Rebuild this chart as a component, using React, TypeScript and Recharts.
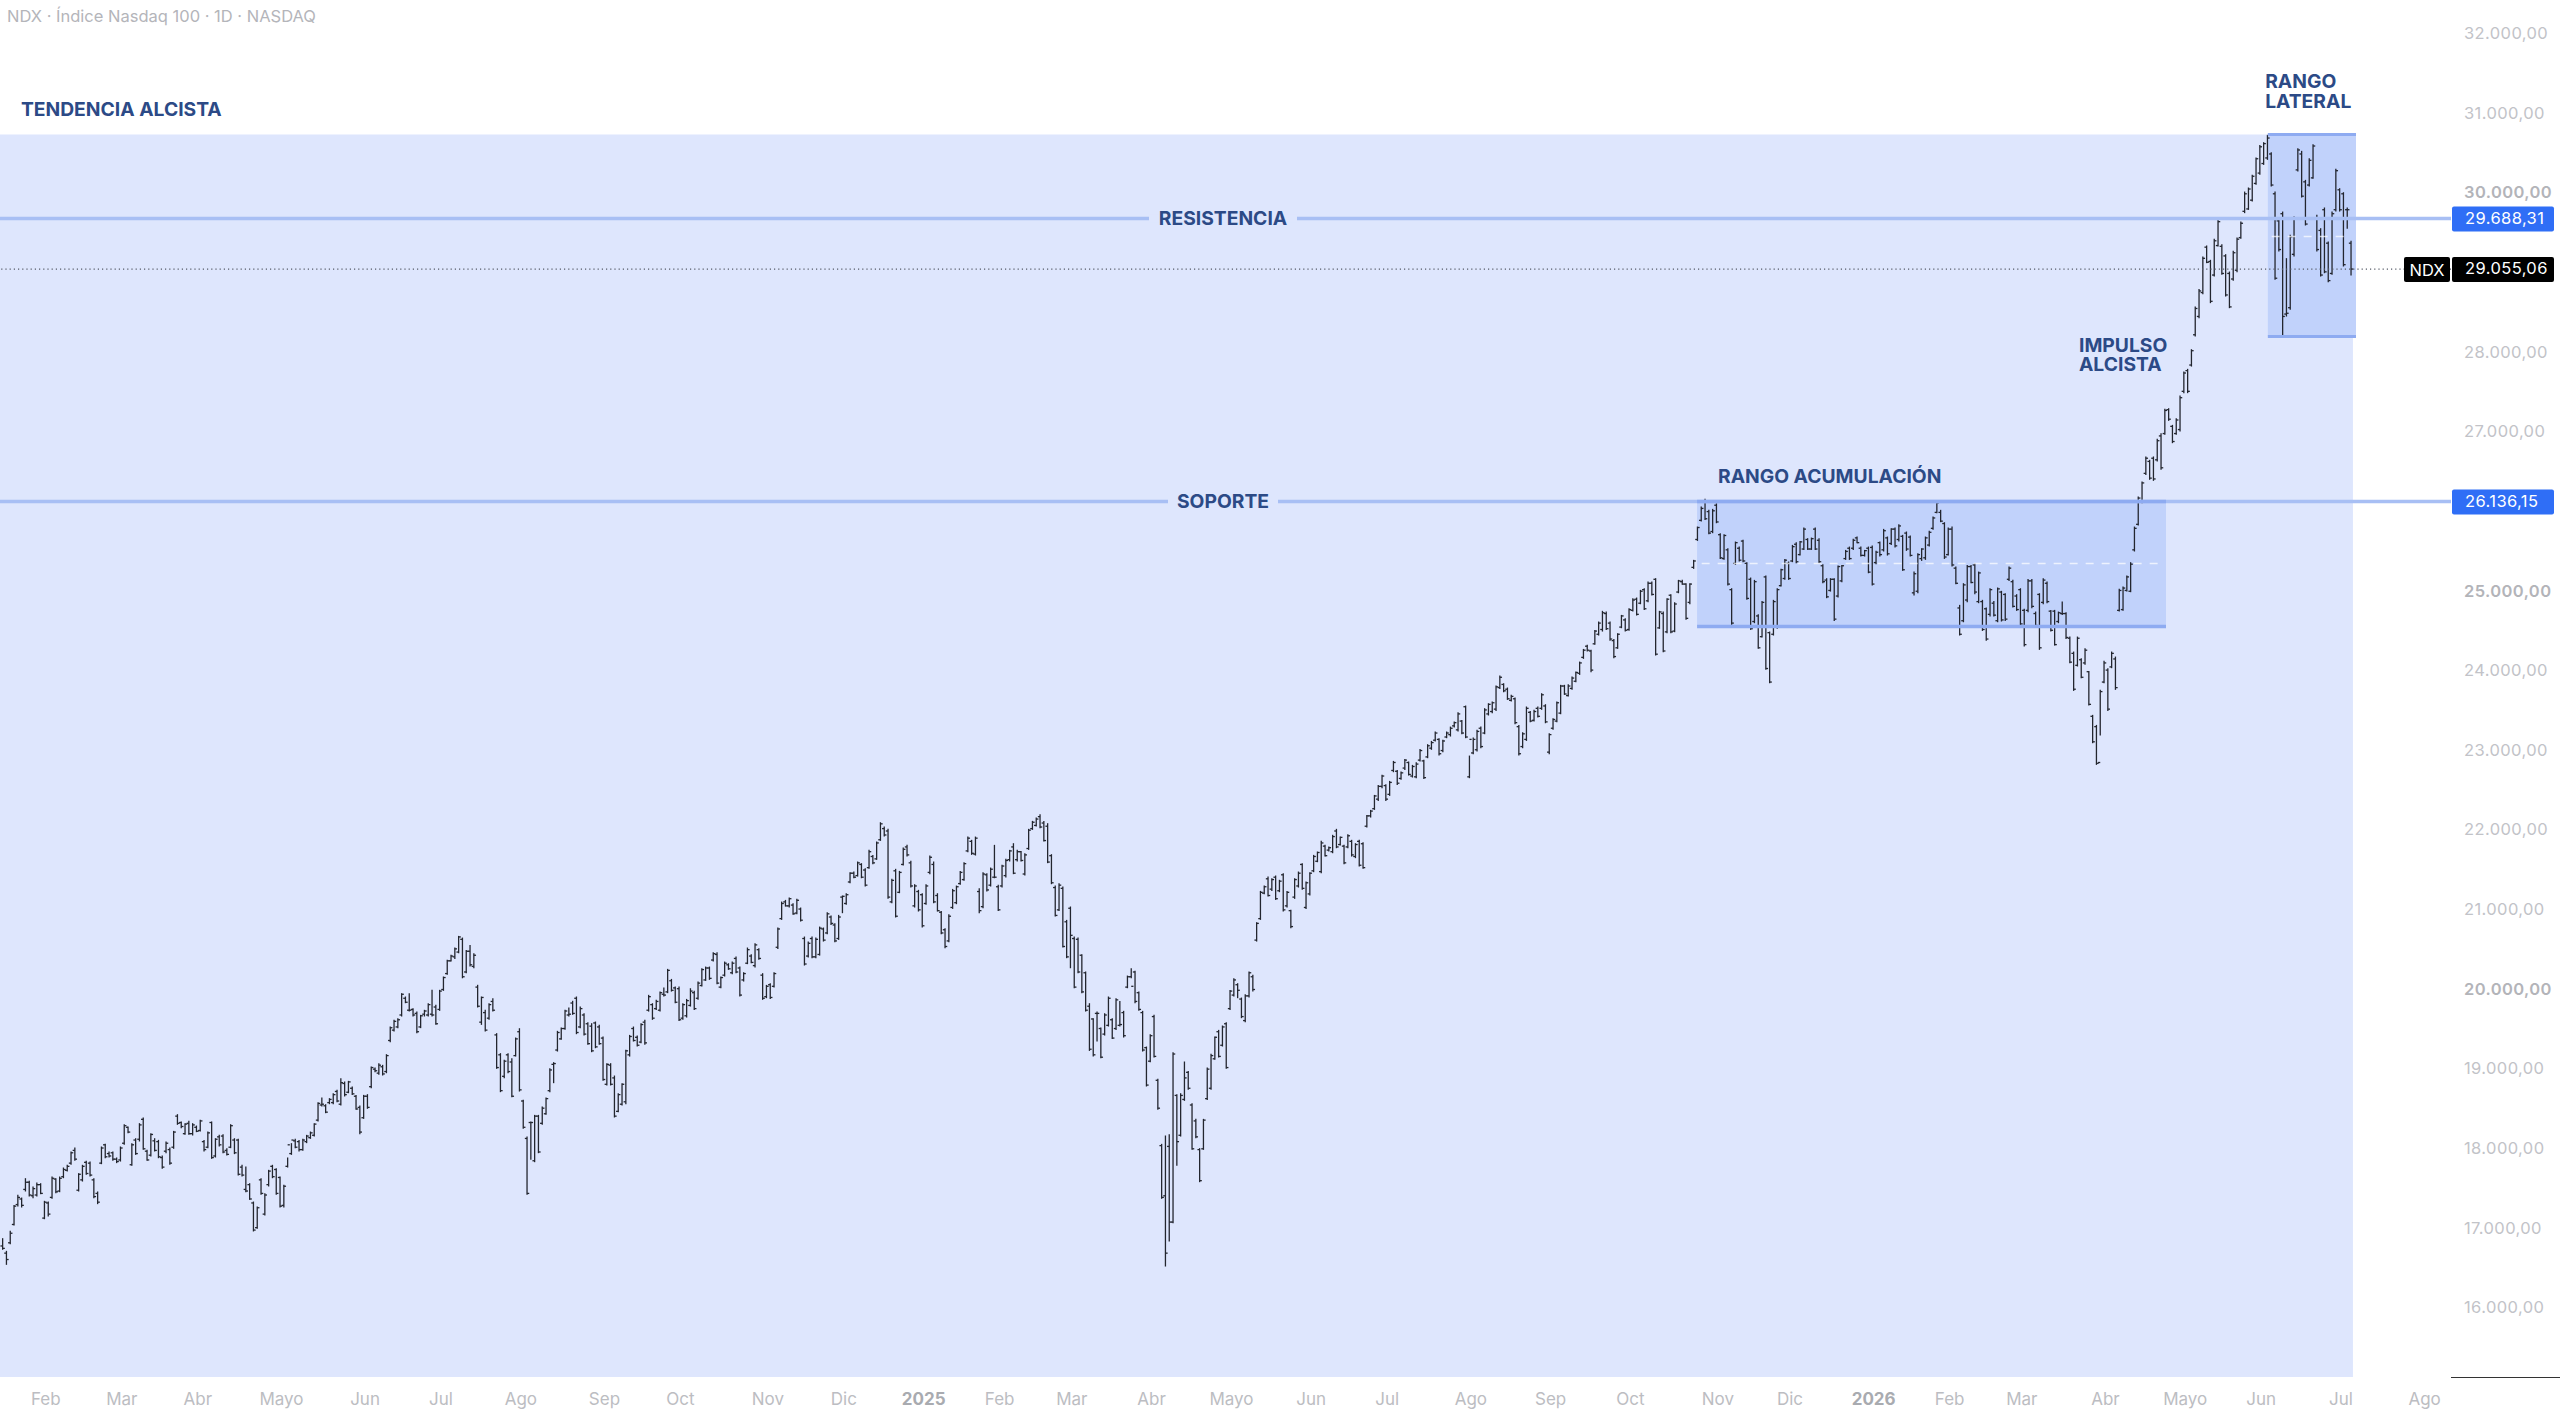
import {
  ComposedChart,
  Bar,
  XAxis,
  YAxis,
  ReferenceArea,
  ReferenceLine,
  ReferenceDot,
} from "recharts";

// NDX daily bars, split by calendar year
const highs2024 = [
  16888,16729,16980,17306,17432,17398,17641,17608,17537,17587,
  17578,17357,17348,17662,17641,17662,17775,17809,17976,18026,
  17704,17809,17859,17850,17641,17474,18039,18072,17976,17976,
  17901,18039,18319,18290,18081,18143,18332,18403,17997,18206,
  18143,18122,17926,18102,18026,18235,18445,18353,18332,18361,
  18332,18302,18374,18122,18227,18353,18143,18185,18194,18018,
  18319,18143,18135,17809,17788,17578,17348,17285,17641,17453,
  17746,17809,17767,17662,17558,17901,18081,18135,18122,18135,
  18185,18227,18332,18595,18654,18570,18646,18708,18750,18897,
  18855,18863,18792,18687,18554,18687,18696,19043,19031,19085,
  19064,19198,19545,19629,19650,19964,19922,19964,19776,19734,
  19692,19755,19838,20006,19817,20006,20173,20382,20445,20536,
  20683,20662,20507,20570,20466,20069,19922,19755,19838,19901,
  19462,19211,19127,19211,19148,19407,19524,18625,18164,18353,
  18436,18436,18541,18654,19022,19098,19491,19533,19755,19784,
  19868,19922,19796,19713,19600,19587,19608,19566,19420,19085,
  19085,18930,18708,18834,19253,19440,19545,19432,19587,19629,
  19943,19838,19880,19984,20035,20269,20143,20047,20047,19838,
  19892,20026,19993,20110,20277,20298,20298,20478,20478,20173,
  20361,20340,20361,20424,20298,20227,20537,20453,20591,20528,
  20215,20068,20089,20227,20788,21114,21135,21165,21093,21148,
  21039,20675,20612,20675,20662,20800,20788,20980,20939,20842,
  20947,21190,21219,21483,21491,21617,21596,21533,21763,21700,
  21868,22110,22056,22027,21399,21525,21499,21792,21826,21625,
  21332,21261,
];
const lows2024 = [
  16742,16553,16813,17047,17285,17273,17474,17411,17390,17411,
  17440,17126,17160,17382,17453,17465,17641,17725,17809,17859,
  17474,17599,17683,17662,17390,17315,17817,17892,17901,17859,
  17830,17850,18060,18206,17796,17934,18102,17997,17859,17913,
  17976,17892,17758,17955,17809,18010,18311,18269,18185,18185,
  18177,18219,18227,17976,18018,17884,17901,18039,17955,17926,
  18018,17943,17675,17662,17465,17369,16972,17005,17432,17172,
  17537,17641,17432,17273,17273,17775,17934,18018,17976,17984,
  18081,18135,18164,18353,18541,18457,18570,18570,18595,18554,
  18667,18708,18687,18499,18194,18386,18512,18771,18972,18939,
  18930,18959,19349,19483,19525,19671,19838,19734,19671,19462,
  19525,19671,19671,19671,19566,19742,19993,20194,20361,20394,
  20465,20151,20214,20298,20278,19784,19566,19483,19629,19734,
  19014,18721,18897,18959,18658,19169,18729,18261,17432,17871,
  17842,17955,18311,18436,18721,18834,19231,19378,19504,19671,
  19692,19449,19525,19432,19315,19223,19273,19315,18863,18805,
  18805,18403,18470,18554,18570,19168,19357,19294,19336,19315,
  19733,19629,19754,19733,19922,19964,19984,19838,19616,19629,
  19658,19796,19754,19880,20047,20118,20131,20361,20077,20026,
  20173,20257,20202,20215,19922,20110,20328,20340,20286,20382,
  19880,19901,19892,20035,20520,20884,21052,21039,20947,20955,
  20863,20311,20411,20403,20403,20436,20612,20704,20821,20604,
  20633,20968,21073,21345,21407,21428,21407,21303,21525,21583,
  21638,21876,21930,21148,21093,20914,21219,21566,21679,21290,
  21039,20989,
];
const opens2024 = [
  16790,16700,16830,17060,17310,17380,17500,17590,17420,17430,
  17560,17140,17330,17400,17630,17480,17660,17740,17830,17990,
  17490,17620,17840,17830,17620,17450,17830,18060,17950,17960,
  17880,17870,18080,18280,17810,18120,18130,18380,17980,17930,
  18110,18100,17900,17980,18000,18030,18420,18340,18200,18330,
  18200,18280,18240,18100,18030,18340,17920,18160,18170,17990,
  18030,18120,18120,17780,17500,17560,17330,17020,17620,17190,
  17560,17790,17750,17650,17300,17790,17950,18110,18100,18000,
  18100,18150,18180,18370,18560,18550,18590,18590,18730,18570,
  18830,18720,18770,18670,18530,18400,18670,18790,19010,18960,
  19040,18980,19370,19500,19540,19690,19900,19750,19760,19710,
  19540,19700,19690,19700,19790,19760,20010,20210,20370,20420,
  20480,20640,20230,20490,20300,20040,19600,19720,19650,19860,
  19440,19190,18920,19190,19100,19180,19480,18610,18140,18340,
  17860,18420,18330,18450,18740,19070,19250,19390,19520,19690,
  19840,19900,19540,19690,19580,19550,19590,19540,19400,18820,
  19060,18900,18480,18570,18600,19190,19520,19410,19350,19600,
  19750,19820,19770,19750,19950,19980,20120,20030,20020,19650,
  19680,19810,19970,19900,20060,20130,20280,20380,20450,20040,
  20190,20320,20220,20400,20280,20130,20340,20430,20310,20510,
  20190,19920,20070,20050,20540,20900,21110,21060,21070,20970,
  21020,20650,20430,20650,20420,20450,20770,20720,20920,20820,
  20650,21170,21090,21360,21470,21440,21580,21510,21540,21680,
  21650,21890,22030,22000,21110,21500,21230,21580,21800,21600,
  21060,21240,
];
const closes2024 = [
  16760,16620,16950,17290,17400,17300,17590,17430,17510,17560,
  17450,17340,17190,17640,17470,17640,17750,17790,17960,17880,
  17690,17790,17700,17680,17410,17340,18020,17910,17920,17880,
  17850,18020,18300,18220,18060,17950,18310,18010,17870,18190,
  17990,17910,17780,18080,17830,18220,18330,18290,18320,18200,
  18310,18230,18360,18000,18210,17900,18130,18060,17970,17940,
  18300,17960,17690,17680,17480,17380,16990,17270,17450,17430,
  17730,17660,17450,17290,17540,18060,18120,18030,18000,18120,
  18170,18210,18320,18580,18570,18470,18630,18690,18610,18840,
  18690,18850,18700,18510,18220,18670,18530,19030,18990,19060,
  18950,19180,19530,19610,19630,19950,19850,19750,19690,19480,
  19680,19740,19820,19690,19580,19990,20160,20370,20430,20520,
  20670,20170,20490,20320,20440,19800,19910,19500,19820,19750,
  19030,18740,19110,18980,18670,19390,18750,18280,17450,18340,
  18420,17970,18520,18640,19000,19080,19470,19520,19740,19700,
  19710,19470,19770,19450,19330,19240,19290,19330,18880,19070,
  18820,18420,18690,18820,19240,19420,19370,19310,19570,19340,
  19920,19650,19860,19970,19940,20250,20000,19850,19630,19820,
  19870,19990,19770,20090,20260,20280,20150,20460,20090,20160,
  20340,20270,20340,20230,19940,20210,20510,20350,20570,20400,
  19900,20050,19910,20210,20770,21090,21060,21150,20960,21130,
  20880,20330,20590,20420,20640,20780,20630,20960,20840,20620,
  20920,21180,21200,21470,21420,21600,21420,21320,21740,21600,
  21850,22090,21950,21170,21380,20930,21480,21770,21700,21310,
  21310,21010,
];

const highs2025 = [
  21219,21332,21692,21617,21219,20997,20780,20955,
  21273,21315,21499,21608,21930,21889,21930,21282,21483,21470,
  21541,21826,21324,21575,21650,21763,21847,21763,21750,21721,
  22027,22127,22169,22211,22127,22098,21709,21315,21345,21303,
  20884,21052,20675,20662,20453,20236,19838,19650,19733,19532,
  19712,19922,19650,19901,19867,19742,20185,20278,20244,19985,
  19742,19294,19449,19692,18888,18072,18177,18193,19223,18696,
  18708,19106,18988,18583,18386,18018,18386,19030,19202,19420,
  19503,19558,19600,20005,20152,20089,19909,19951,20236,20194,
  20855,21248,21315,21428,21407,21441,21387,21470,21248,21010,
  21407,21491,21596,21366,21483,21700,21742,21876,21826,21805,
  21952,22027,21931,21826,21960,21889,21847,21889,21859,22202,
  22265,22453,22579,22705,22587,22629,22880,22767,22746,22905,
  22872,22830,22864,23031,22893,23090,23131,23249,23165,23144,
  23249,23311,23374,23491,23395,23575,22947,23173,23270,23311,
  23542,23604,23625,23826,23952,23855,23801,23709,23676,23332,
  23240,23563,23508,23521,23563,23730,23592,23228,23416,23625,
  23835,23835,23843,23939,24002,24127,24286,24337,24274,24525,
  24630,24764,24755,24630,24412,24483,24713,24672,24797,24923,
  24931,25027,25048,25132,25132,25174,24764,24755,24923,24973,
  24872,25153,25153,25111,25111,25404,25822,26073,26170,26032,
  26044,26115,25739,25726,25550,25048,25634,25571,25655,25375,
  25182,25153,24722,24889,25207,24504,24902,25048,25291,25416,
  25383,25592,25626,25642,25810,25676,25684,25810,25676,25349,
  25174,25174,25174,25333,25341,25529,25571,25668,25697,25571,
  25529,25571,
];
const lows2025 = [
  20788,21073,21458,21093,20989,20704,20529,20604,
  21022,21081,21324,21374,21734,21700,21692,20968,21031,21240,
  21303,21407,20997,21290,21416,21617,21458,21617,21617,21441,
  21763,22014,22056,22035,21868,21596,21332,20926,20997,20537,
  20403,20277,20026,20215,19964,19733,19239,19168,19357,19147,
  19432,19545,19390,19503,19545,19407,20026,20152,19838,19742,
  19231,18792,19097,19156,18499,17382,16532,16846,17076,17796,
  18164,18612,18750,17997,18143,17591,17997,18624,18750,19127,
  19156,19294,19014,19754,19922,19901,19650,19600,19909,19985,
  20612,20884,21207,21177,21248,21135,21232,20989,21039,20780,
  21148,21290,21261,21022,21190,21483,21608,21470,21679,21742,
  21721,21784,21818,21583,21784,21679,21659,21554,21525,22043,
  22169,22265,22378,22537,22378,22441,22738,22579,22642,22767,
  22696,22671,22663,22872,22654,22914,23019,23123,22947,22989,
  23165,23186,23299,23249,23215,23165,22663,22964,22998,23039,
  23215,23450,23479,23508,23784,23742,23646,23625,23341,22947,
  23039,23131,23366,23374,23424,23521,23353,22964,23270,23366,
  23466,23709,23688,23772,23868,23960,24161,24253,23994,24337,
  24454,24504,24525,24387,24169,24287,24546,24504,24513,24755,
  24705,24847,24776,24872,24956,24203,24538,24245,24483,24483,
  24496,24985,25090,24651,24847,25291,25642,25885,25906,25726,
  25739,25864,25416,25404,25082,24588,25341,25383,25375,24902,
  24525,24609,24287,24429,24023,23855,24454,24538,25069,25153,
  25153,25375,25362,25458,25529,25529,25529,25529,25362,25111,
  24923,25006,24638,24931,25123,25404,25404,25529,25613,25446,
  25446,25236,
];
const opens2025 = [
  21200,21090,21480,21580,21190,20980,20760,20620,
  21040,21100,21340,21390,21750,21870,21710,21240,21050,21450,
  21320,21420,21300,21310,21440,21640,21800,21640,21740,21460,
  21780,22030,22070,22180,22100,22060,21690,21290,21010,21280,
  20860,21030,20650,20640,20440,20220,19800,19640,19710,19520,
  19450,19560,19630,19520,19560,19720,20040,20170,20230,19970,
  19720,19280,19110,19670,18870,18050,17420,18040,17090,18680,
  18180,18630,18970,18560,18360,18000,18010,18640,18770,19140,
  19480,19310,19580,19770,19940,20070,19890,19620,19930,20170,
  20630,20900,21220,21400,21270,21420,21250,21450,21060,21000,
  21170,21310,21580,21040,21210,21500,21620,21490,21810,21760,
  21740,22000,21830,21810,21800,21870,21680,21870,21840,22060,
  22190,22280,22400,22560,22570,22460,22760,22750,22660,22790,
  22860,22690,22680,22890,22880,22930,23040,23140,23150,23010,
  23180,23210,23320,23270,23380,23560,22680,22980,23020,23290,
  23230,23470,23500,23530,23800,23840,23780,23640,23660,23310,
  23060,23150,23490,23390,23540,23540,23570,22990,23290,23380,
  23480,23820,23700,23790,23880,23980,24180,24320,24260,24350,
  24470,24530,24730,24610,24390,24300,24560,24650,24530,24770,
  24910,24860,25030,24890,25110,25160,24550,24730,24500,24960,
  24510,25000,25130,25100,24870,25310,25660,25900,26140,26010,
  25760,26090,25720,25420,25530,25030,25360,25550,25640,25360,
  25160,24630,24700,24440,25190,24490,24470,24560,25080,25170,
  25360,25390,25600,25470,25540,25660,25540,25790,25650,25330,
  25150,25020,25160,24950,25140,25420,25550,25550,25680,25550,
  25460,25550,
];
const closes2025 = [
  20810,21310,21670,21110,21000,20720,20550,20930,
  21250,21300,21480,21590,21910,21720,21910,21000,21460,21260,
  21520,21420,21010,21560,21630,21750,21470,21740,21630,21700,
  22010,22110,22150,22050,21880,21610,21350,20940,21320,20550,
  20420,20690,20040,20230,19980,19750,19260,19190,19710,19160,
  19690,19900,19400,19880,19570,19430,20170,20050,19860,19760,
  19250,18810,19430,19170,18520,17400,16700,17090,19200,18100,
  18680,18900,18770,18010,18160,17610,18370,19010,19180,19410,
  19170,19540,19030,19990,20130,20000,19670,19930,20220,20010,
  20840,21230,21300,21190,21390,21150,21370,21010,21230,20800,
  21390,21470,21280,21350,21470,21680,21730,21850,21690,21790,
  21930,21800,21920,21600,21940,21700,21830,21570,21540,22190,
  22250,22440,22560,22690,22400,22610,22860,22600,22730,22890,
  22710,22810,22840,23010,22670,23070,23110,23230,22970,23130,
  23230,23290,23360,23470,23230,23180,23150,23150,23250,23060,
  23520,23590,23610,23810,23930,23760,23660,23690,23360,22970,
  23220,23540,23380,23500,23440,23710,23370,23210,23400,23610,
  23820,23720,23820,23920,23990,24110,24270,24270,24020,24510,
  24610,24740,24540,24410,24190,24470,24700,24520,24780,24900,
  24720,25010,24790,25110,24970,24220,24750,24260,24910,24500,
  24850,25140,25100,24670,25100,25390,25810,26050,25920,25740,
  26020,25880,25430,25710,25100,24610,25620,25400,25390,24920,
  24540,25130,24300,24870,24040,23870,24880,25030,25280,25400,
  25170,25570,25380,25630,25790,25540,25670,25540,25380,25130,
  24940,25160,24660,25320,25330,25510,25420,25650,25620,25460,
  25520,25250,
];

const highs2026 = [
  25584,25517,25634,25793,25697,25802,25810,25852,
  25718,25760,25709,25257,25488,25550,25697,25768,25948,26145,
  26032,25877,25810,25822,25320,24839,25111,25341,25341,25362,
  25257,24902,24805,25048,24889,25057,25015,24985,25320,25153,
  24973,25048,24789,25165,25165,24755,24985,25174,25132,24776,
  24776,24755,24881,24747,24441,24253,24441,24169,24295,24010,
  23458,23332,23772,24136,24044,24253,24190,25040,25069,25207,
  25375,25822,26199,26387,26702,26660,26702,26923,26994,27300,
  27308,27099,27183,27467,27769,27802,28049,28585,28806,29212,
  29351,29171,29434,29673,29367,29242,29024,29284,29451,29652,
  30028,30079,30238,30455,30614,30648,30740,30522,30028,29685,
  29777,29192,29485,29715,30573,30539,30175,30447,30623,29736,
  29568,29828,29401,29777,30313,30070,30020,29828,29409,
];
const lows2026 = [
  25082,25349,25446,25509,25458,25592,25559,25634,
  25266,25517,25446,24956,24985,25391,25404,25571,25781,25990,
  25877,25416,25458,25320,25098,24454,24621,24872,25111,24973,
  24860,24512,24387,24692,24692,24621,24630,24638,25140,24805,
  24764,24579,24316,24747,24797,24567,24274,24847,24860,24504,
  24328,24609,24713,24412,24107,23759,24065,23918,24086,23575,
  23102,22830,23198,23855,23508,24044,23772,24755,24764,25006,
  24998,25509,25835,26115,26471,26409,26396,26639,26534,26974,
  27149,26869,26974,27015,27497,27497,27831,28208,28438,28740,
  29129,28627,28961,29338,28982,28710,28564,28907,29016,29434,
  29757,29798,29903,30112,30238,30363,30426,30091,28920,29275,
  28195,28459,28543,29213,30280,29953,29602,30091,30188,29275,
  28961,29003,28890,28982,29777,29777,29087,29560,28974,
];
const opens2026 = [
  25560,25370,25620,25530,25680,25610,25790,25660,
  25700,25740,25690,24990,25010,25420,25430,25590,25800,26000,
  26000,25860,25470,25790,25300,24800,24640,24900,25320,25340,
  24880,24880,24790,24720,24860,24640,25000,24970,25160,25130,
  24950,25030,24770,24770,25140,24730,24970,24870,25110,24760,
  24760,24630,24730,24730,24420,24230,24080,24150,24110,24000,
  23440,23310,22860,23870,24020,24060,24160,24770,24780,25020,
  25010,25530,25850,26130,26490,26640,26680,26660,26960,26990,
  27290,27080,26990,27040,27520,27780,27850,28230,28460,28760,
  29330,29150,28980,29350,29340,29220,29000,28930,29040,29450,
  29780,29810,29920,30130,30260,30380,30450,30500,30000,29660,
  29750,28490,28570,29240,30300,30500,30150,30110,30200,29700,
  29540,29800,29380,29000,29800,30050,30000,29800,29380,
];
const closes2026 = [
  25100,25500,25470,25770,25480,25790,25580,25830,
  25280,25540,25460,25230,25470,25540,25680,25750,25930,26120,
  25890,25440,25790,25340,25110,24470,25090,25320,25120,25000,
  25240,24530,24410,25030,24710,25040,24650,24660,25300,24820,
  24780,24600,24340,25140,24820,24580,24300,25150,24880,24520,
  24340,24740,24730,24430,24120,23780,24420,23930,24270,23590,
  23120,22850,23750,24110,23530,24230,23800,25020,25050,25190,
  25350,25800,26180,26370,26680,26430,26420,26900,26560,27280,
  27170,26890,27160,27440,27750,27520,28030,28560,28780,29190,
  29140,28650,29410,29650,29000,28730,28580,29260,29430,29630,
  30000,30060,30220,30440,30590,30630,30700,30110,28940,29300,
  28460,28500,29460,29690,30550,29970,29620,30420,30600,29300,
  28980,29020,28910,29750,30290,29800,29110,29800,29055.06,
];

const highs = [...highs2024, ...highs2025, ...highs2026];
const lows = [...lows2024, ...lows2025, ...lows2026];
const opens = [...opens2024, ...opens2025, ...opens2026];
const closes = [...closes2024, ...closes2025, ...closes2026];

const monthTicks = [11,31,51,73,95,115,136,158,178,201,221,242,262,281,302,323,344,364,386,407,428,451,470,492,512,531,553,574,594,615,637];
const monthLabels = ["Feb","Mar","Abr","Mayo","Jun","Jul","Ago","Sep","Oct","Nov","Dic","2025","Feb","Mar","Abr","Mayo","Jun","Jul","Ago","Sep","Oct","Nov","Dic","2026","Feb","Mar","Abr","Mayo","Jun","Jul","Ago"];
// 26.000 and 29.000 sit under the price tags in the original, so they are left out
const priceTicks = [16000,17000,18000,19000,20000,21000,22000,23000,24000,25000,27000,28000,30000,31000,32000];

const RESISTANCE = 29688.31;
const SUPPORT = 26136.15;
const LAST_PRICE = 29055.06;

const chartData = highs.map((h, i) => ({
  i,
  range: [lows[i], h],
  open: opens[i],
  high: h,
  low: lows[i],
  close: closes[i],
}));

const FONT = "Inter, 'Noto Sans', sans-serif";
const NOTE_COLOR = "#2c4a86";
const SHADE = "#dee6fd";
const RANGE_FILL = "#c1d2fb";
const RANGE_EDGE = "#8eabf1";
const LEVEL_LINE = "#a8bff4";
const TAG_BLUE = "#2f6ef6";
const BAR_COLOR = "#23262f";

const fmtPrice = (v: number) =>
  v.toLocaleString("es-ES", { minimumFractionDigits: 2, maximumFractionDigits: 2, useGrouping: true }).replace(/^(\d{2})(\d{3})/, "$1.$2");

const OhlcBar = ({ x, y, width, height, payload }: any) => {
  const cx = x + width / 2;
  const perPoint = height / (payload.high - payload.low);
  const openY = y + (payload.high - payload.open) * perPoint;
  const closeY = y + (payload.high - payload.close) * perPoint;
  return (
    <g stroke={BAR_COLOR} strokeWidth={1.3}>
      <line x1={cx} x2={cx} y1={y} y2={y + height} />
      <line x1={cx - 2.2} x2={cx} y1={openY} y2={openY} />
      <line x1={cx} x2={cx + 2.2} y1={closeY} y2={closeY} />
    </g>
  );
};

const MonthTick = ({ x, y, payload }: any) => {
  const label = monthLabels[monthTicks.indexOf(payload.value)];
  const isYear = label === "2025" || label === "2026";
  return (
    <text x={x + 1} y={y + 20} textAnchor="middle" fontFamily={FONT} fontSize={17} fontWeight={isYear ? 700 : 400} fill={isYear ? "#a9abb0" : "#bcbdc2"}>
      {label}
    </text>
  );
};

const PriceTick = ({ x, y, payload }: any) => {
  const major = payload.value % 5000 === 0;
  return (
    <text x={x + 5} y={y + 4.5} fontFamily={FONT} fontSize={16.5} letterSpacing={0.4} fontWeight={major ? 600 : 400} fill={major ? "#b3b4b9" : "#c2c3c8"}>
      {fmtPrice(payload.value)}
    </text>
  );
};

// label for the level lines: a break in the line with the name, and the price tag on the axis
const levelLabel = (name: string, gap: number, price: number) => ({ viewBox }: any) => {
  const mid = 1223;
  const tagX = viewBox.x + viewBox.width + 1;
  return (
    <g>
      <rect x={mid - gap / 2} y={viewBox.y - 4} width={gap} height={8} fill={SHADE} />
      <text x={mid} y={viewBox.y + 6.5} textAnchor="middle" fontFamily={FONT} fontSize={19.3} fontWeight={700} fill={NOTE_COLOR}>
        {name}
      </text>
      <rect x={tagX} y={viewBox.y - 12} width={102} height={25} rx={2} fill={TAG_BLUE} />
      <text x={tagX + 13} y={viewBox.y + 5} fontFamily={FONT} fontSize={16.5} letterSpacing={0.4} fill="#fff">
        {fmtPrice(price)}
      </text>
    </g>
  );
};

const lastPriceLabel = ({ viewBox }: any) => {
  const tagX = viewBox.x + viewBox.width + 1;
  return (
    <g>
      <rect x={tagX - 48} y={viewBox.y - 12} width={46} height={25} rx={2} fill="#000" />
      <text x={tagX - 25} y={viewBox.y + 6.5} textAnchor="middle" fontFamily={FONT} fontSize={16.5} fill="#fff">NDX</text>
      <rect x={tagX} y={viewBox.y - 12} width={102} height={25} rx={2} fill="#000" />
      <text x={tagX + 13} y={viewBox.y + 5} fontFamily={FONT} fontSize={16.5} letterSpacing={0.4} fill="#fff">
        {fmtPrice(LAST_PRICE)}
      </text>
    </g>
  );
};

const noteLabel = (lines: string[]) => ({ viewBox }: any) => (
  <text x={viewBox.x} y={viewBox.y} fontFamily={FONT} fontSize={19.3} fontWeight={700} fill={NOTE_COLOR}>
    {lines.map((l, k) => (
      <tspan key={l} x={viewBox.x} dy={k === 0 ? 0 : 19.5}>{l}</tspan>
    ))}
  </text>
);

export default function App() {
  return (
    <div style={{ position: "absolute", left: 0, top: 0, width: 2560, height: 1412, background: "#fff", overflow: "hidden" }}>
      <ComposedChart width={2560} height={1412} data={chartData} margin={{ top: 0, right: 0, bottom: 0, left: 0 }}>
        <XAxis
          dataKey="i"
          type="number"
          domain={[-0.8, 644.2]}
          ticks={monthTicks}
          interval={0}
          height={35}
          axisLine={false}
          tickLine={false}
          tick={<MonthTick />}
        />
        <YAxis
          orientation="right"
          type="number"
          domain={[15145, 32433]}
          ticks={priceTicks}
          interval={0}
          width={109}
          axisLine={false}
          tickLine={false}
          tick={<PriceTick />}
        />

        <ReferenceArea x1={-0.8} x2={618.4} y1={15145} y2={30744} fill={SHADE} fillOpacity={1} stroke="none" />
        <ReferenceArea x1={445.8} x2={569.2} y1={24567} y2={SUPPORT} fill={RANGE_FILL} fillOpacity={1} stroke="none" />
        <ReferenceArea x1={596} x2={619.2} y1={28208} y2={30744} fill={RANGE_FILL} fillOpacity={1} stroke="none" />

        <ReferenceLine y={RESISTANCE} stroke={LEVEL_LINE} strokeWidth={3.5} label={levelLabel("RESISTENCIA", 148, RESISTANCE)} />
        <ReferenceLine y={SUPPORT} stroke={LEVEL_LINE} strokeWidth={3.5} label={levelLabel("SOPORTE", 110, SUPPORT)} />
        <ReferenceLine y={LAST_PRICE} stroke="#555a66" strokeWidth={1.2} strokeDasharray="1.2 3" label={lastPriceLabel} />

        <ReferenceLine segment={[{ x: 445.8, y: SUPPORT }, { x: 569.2, y: SUPPORT }]} stroke={RANGE_EDGE} strokeWidth={3.5} />
        <ReferenceLine segment={[{ x: 445.8, y: 24567 }, { x: 569.2, y: 24567 }]} stroke={RANGE_EDGE} strokeWidth={3.5} />
        <ReferenceLine segment={[{ x: 596, y: 30744 }, { x: 619.2, y: 30744 }]} stroke={RANGE_EDGE} strokeWidth={3} />
        <ReferenceLine segment={[{ x: 596, y: 28208 }, { x: 619.2, y: 28208 }]} stroke={RANGE_EDGE} strokeWidth={3} />
        <ReferenceLine segment={[{ x: 447, y: 25358 }, { x: 568, y: 25358 }]} stroke="#fff" strokeOpacity={0.7} strokeWidth={1.5} strokeDasharray="8 8" />
        <ReferenceLine segment={[{ x: 597, y: 29464 }, { x: 618, y: 29464 }]} stroke="#fff" strokeOpacity={0.7} strokeWidth={1.5} strokeDasharray="8 8" />

        <Bar dataKey="range" barSize={3} shape={<OhlcBar />} isAnimationActive={false} />

        <ReferenceDot x={4.7} y={30977} r={0} stroke="none" fill="none" label={noteLabel(["TENDENCIA ALCISTA"])} />
        <ReferenceDot x={451.3} y={26369} r={0} stroke="none" fill="none" label={noteLabel(["RANGO ACUMULACIÓN"])} />
        <ReferenceDot x={546.3} y={28014} r={0} stroke="none" fill="none" label={noteLabel(["IMPULSO", "ALCISTA"])} />
        <ReferenceDot x={595.3} y={31328} r={0} stroke="none" fill="none" label={noteLabel(["RANGO", "LATERAL"])} />
      </ComposedChart>
      <div style={{ position: "absolute", left: 7, top: 6, fontFamily: FONT, fontSize: 16.5, color: "#b4b5ba", whiteSpace: "nowrap" }}>
        NDX · Índice Nasdaq 100 · 1D · NASDAQ
      </div>
      <div style={{ position: "absolute", left: 2451, top: 1377, width: 109, height: 1, background: "#333" }} />
    </div>
  );
}
